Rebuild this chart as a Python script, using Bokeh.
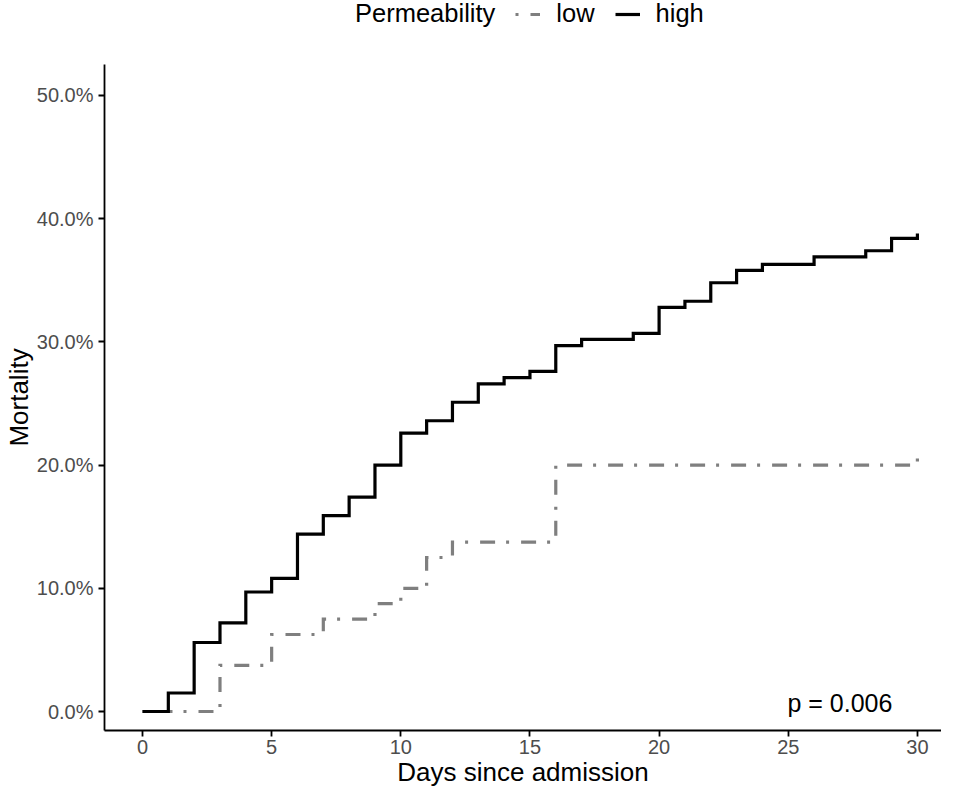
from bokeh.plotting import figure
from bokeh.layouts import column
from bokeh.models import Legend, LegendItem, FixedTicker, Range1d
from bokeh.core.properties import value
from bokeh.embed import file_html
from bokeh.resources import INLINE

# ---- data ----
high_days = [0, 1, 2, 3, 4, 5, 6, 7, 8, 9, 10, 11, 12, 13, 14, 15, 16, 17, 19, 20,
             21, 22, 23, 24, 26, 28, 29, 30]
high_mort = [0.0, 1.5, 5.6, 7.2, 9.7, 10.8, 14.4, 15.9, 17.4, 20.0, 22.6, 23.6, 25.1,
             26.6, 27.1, 27.6, 29.7, 30.2, 30.7, 32.8, 33.3, 34.8, 35.8, 36.3, 36.9,
             37.4, 38.4, 38.8]
low_days = [0, 3, 5, 7, 9, 10, 11, 12, 16, 30]
low_mort = [0.0, 3.75, 6.25, 7.5, 8.75, 10.0, 12.5, 13.75, 20.0, 21.25]

x_ticks = [0, 5, 10, 15, 20, 25, 30]
y_ticks = [0, 10, 20, 30, 40, 50]
y_tick_labels = ["0.0%", "10.0%", "20.0%", "30.0%", "40.0%", "50.0%"]

legend_title = "Permeability"
series_names = ["low", "high"]
p_text = "p = 0.006"
p_text_day = 27.0
p_text_mort = 0.7

FONT = "Liberation Sans"
LOW_COLOR = "#7F7F7F"
LOW_DASH = "3 12 15 11"
HIGH_COLOR = "black"
LW = 3.2

W = 941
LEG_H = 64
MAIN_H = 726
FRAME_LEFT = 104

# ---- main plot ----
p = figure(width=W, height=MAIN_H, output_backend="svg", toolbar_location=None,
           x_range=Range1d(-1.471, 30.933), y_range=Range1d(-1.542, 52.516),
           min_border_left=FRAME_LEFT, min_border_right=0, min_border_top=0,
           min_border_bottom=60, title=None)

p.outline_line_color = None
p.xgrid.grid_line_color = None
p.ygrid.grid_line_color = None
p.background_fill_color = "white"
p.border_fill_color = "white"

for ax in (p.xaxis[0], p.yaxis[0]):
    ax.axis_line_color = "black"
    ax.axis_line_width = 1.8
    ax.major_tick_line_color = "black"
    ax.major_tick_line_width = 1.8
    ax.major_tick_in = 0
    ax.major_tick_out = 6
    ax.minor_tick_line_color = None
    ax.major_label_text_font = FONT
    ax.major_label_text_font_size = "20px"
    ax.major_label_text_color = "#4D4D4D"
    ax.axis_label_text_font = FONT
    ax.axis_label_text_font_size = "26px"
    ax.axis_label_text_font_style = "normal"
    ax.axis_label_text_color = "black"

p.xaxis[0].major_label_standoff = 3
p.xaxis[0].axis_label_standoff = 0
p.yaxis[0].major_label_standoff = 5
p.yaxis[0].axis_label_standoff = 0

p.xaxis.ticker = FixedTicker(ticks=x_ticks)
p.yaxis.ticker = FixedTicker(ticks=y_ticks)
p.yaxis.major_label_overrides = {t: l for t, l in zip(y_ticks, y_tick_labels)}
p.xaxis.axis_label = "Days since admission"
p.yaxis.axis_label = "Mortality"

p.step(low_days, low_mort, mode="after", line_color=LOW_COLOR, line_width=LW,
       line_dash=LOW_DASH, line_join="miter")
p.step(high_days, high_mort, mode="after", line_color=HIGH_COLOR, line_width=LW,
       line_join="miter")

p.text(x=[p_text_day], y=[p_text_mort], text=[p_text], text_font=value(FONT),
       text_font_size="25px", text_align="center", text_baseline="alphabetic",
       text_color="black")

# ---- legend strip on top (its frame is aligned with the main frame) ----
pl = figure(width=W, height=LEG_H, output_backend="svg", toolbar_location=None,
            x_range=Range1d(0, 1), y_range=Range1d(1000, 1001), x_axis_type=None,
            y_axis_type=None, min_border=0, min_border_left=FRAME_LEFT, title=None)
pl.outline_line_color = None
pl.xgrid.grid_line_color = None
pl.ygrid.grid_line_color = None
pl.background_fill_color = "white"
pl.border_fill_color = "white"

# legend keys (the series lie outside this strip's visible range)
r_title = pl.line(low_days, low_mort, line_alpha=0)
r_low = pl.line(low_days, low_mort, line_color=LOW_COLOR, line_width=LW,
                line_dash=LOW_DASH)
r_high = pl.line(high_days, high_mort, line_color=HIGH_COLOR, line_width=LW)

legend = Legend(items=[LegendItem(label=legend_title, renderers=[r_title]),
                       LegendItem(label=series_names[0], renderers=[r_low]),
                       LegendItem(label=series_names[1], renderers=[r_high])],
                orientation="horizontal", location=(355 - 41 - FRAME_LEFT, 36),
                glyph_width=25, glyph_height=28, label_standoff=16, spacing=20,
                padding=0, margin=0, border_line_color=None,
                background_fill_alpha=0, label_text_font=FONT,
                label_text_font_size="25.5px", label_height=28,
                label_text_color="black")
pl.add_layout(legend, "center")

layout = column(pl, p, spacing=0)

open("out.html", "w").write(file_html(layout, INLINE))
